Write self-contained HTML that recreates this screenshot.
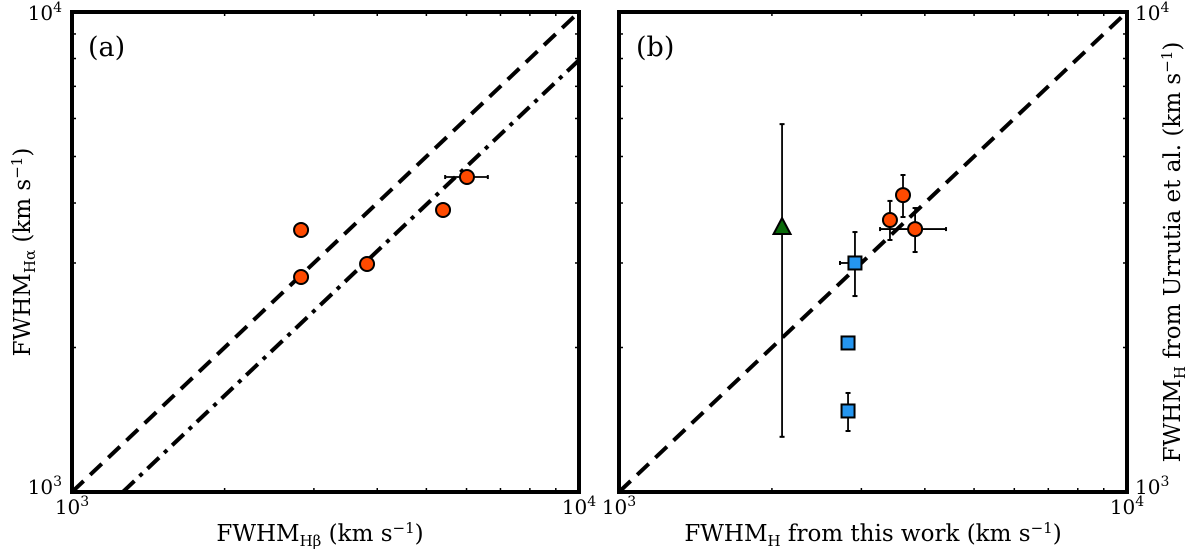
<!DOCTYPE html>
<html><head><meta charset="utf-8">
<style>
html,body{margin:0;padding:0;background:#fff;}
svg{display:block;font-family:"DejaVu Serif","Liberation Serif",serif;}
</style></head>
<body>
<svg id="chart" width="1200" height="554" viewBox="0 0 1200 554" xmlns="http://www.w3.org/2000/svg">
<g id="gA"></g>
<g id="gB"></g>
</svg>
<script>
// Panel (a) data
const aX = [2830, 2830, 3819, 5393, 6012];
const aY = [3515, 2805, 2985, 3869, 4531];
const aXerrLo = [0, 0, 0, 0, 5445];
const aXerrHi = [0, 0, 0, 0, 6610];
const dashDotRatio = [0.794];
// Panel (b) data
const bTriX = [2094]; const bTriY = [3548]; const bTriYlo = [1303]; const bTriYhi = [5840];
const bSqX = [2914, 2824, 2824];
const bSqY = [3000, 2044, 1475];
const bSqXlo = [2723, 2824, 2824];
const bSqXhi = [2914, 2824, 2824];
const bSqYlo = [2560, 2020, 1340];
const bSqYhi = [3480, 2070, 1608];
const bCX = [3415, 3623, 3827];
const bCY = [3687, 4155, 3530];
const bCXlo = [3415, 3623, 3265];
const bCXhi = [3415, 3623, 4403];
const bCYlo = [3350, 3740, 3162];
const bCYhi = [4040, 4575, 3905];
const minorTicks = [2000,3000,4000,5000,6000,7000,8000,9000];

const NS = "http://www.w3.org/2000/svg";
function mk(tag, attrs, parent){
  const e = document.createElementNS(NS, tag);
  for (const k in attrs) e.setAttribute(k, attrs[k]);
  parent.appendChild(e); return e;
}
function axes(x0, x1, y0, y1){
  const sx = v => x0 + (Math.log10(v) - 3) * (x1 - x0);
  const sy = v => y1 - (Math.log10(v) - 3) * (y1 - y0);
  return {sx, sy};
}
function frame(g, x0, x1, y0, y1, sx, sy, rightLabels){
  minorTicks.forEach(t => {
    const X = sx(t), Y = sy(t);
    let e;
    e = mk('line', {x1:X, y1:y1, x2:X, y2:y1-4, stroke:'#000','stroke-width':1.5}, g);
    
    
    e = mk('line', {x1:X, y1:y0, x2:X, y2:y0+4, stroke:'#000','stroke-width':1.5}, g);
    
    
    e = mk('line', {x1:x0, y1:Y, x2:x0+4, y2:Y, stroke:'#000','stroke-width':1.5}, g);
    
    
    e = mk('line', {x1:x1, y1:Y, x2:x1-4, y2:Y, stroke:'#000','stroke-width':1.5}, g);
    
    
  });
  const r = mk('rect', {x:x0, y:y0, width:x1-x0, height:y1-y0, fill:'none', stroke:'#000','stroke-width':4}, g);
  
  
  function lab(x, y, exp, anchor, name){
    const t = mk('text', {x:x, y:y, 'font-size':20, 'text-anchor':anchor}, g);
    
    
    t.textContent = '10';
    const s = mk('tspan', {dy:-8, 'font-size':14}, t); s.textContent = exp;
  }
  lab(x0, y1+22, '3', 'middle', 'x-tick-label-1e3');
  lab(x1, y1+22, '4', 'middle', 'x-tick-label-1e4');
  if (rightLabels){
    lab(x1+8, y0+8, '4', 'start', 'y-tick-label-1e4');
    lab(x1+8, y1+2, '3', 'start', 'y-tick-label-1e3');
  } else {
    lab(x0-10, y0+8, '4', 'end', 'y-tick-label-1e4');
    lab(x0-10, y1+2, '3', 'end', 'y-tick-label-1e3');
  }
}
function errbar(g, x1, y1, x2, y2, horiz){
  const e = mk('line', {x1:x1, y1:y1, x2:x2, y2:y2, stroke:'#000', 'stroke-width':1.8}, g);
  
  
  [[x1,y1],[x2,y2]].forEach(p => {
    const c = mk('line', horiz ? {x1:p[0], y1:p[1]-2, x2:p[0], y2:p[1]+2} : {x1:p[0]-2.5, y1:p[1], x2:p[0]+2.5, y2:p[1]}, g);
    c.setAttribute('stroke', '#000'); c.setAttribute('stroke-width', 2);
    
    
  });
}
function circle(g, X, Y){
  const c = mk('circle', {cx:X, cy:Y, r:7, fill:'#ff4a00', stroke:'#000', 'stroke-width':2}, g);
  
  
}

// Panel A
(function(){
  const g = document.getElementById('gA');
  const x0=72, x1=579, y0=12, y1=492;
  const {sx, sy} = axes(x0, x1, y0, y1);
  const cp = mk('clipPath', {id:'clipA'}, g);
  mk('rect', {x:x0, y:y0, width:x1-x0, height:y1-y0}, cp);
  let l = mk('line', {x1:sx(1000), y1:sy(1000), x2:sx(10000), y2:sy(10000), stroke:'#000','stroke-width':4,'stroke-dasharray':'16 9','clip-path':'url(#clipA)'}, g);
  
  
  const r = dashDotRatio[0];
  l = mk('line', {x1:sx(1000/r), y1:sy(1000), x2:sx(10000), y2:sy(10000*r), stroke:'#000','stroke-width':4,'stroke-dasharray':'16 7 4 7','clip-path':'url(#clipA)'}, g);
  
  
  aX.forEach((v, i) => {
    if (aXerrLo[i] && aXerrHi[i]) errbar(g, sx(aXerrLo[i]), sy(aY[i]), sx(aXerrHi[i]), sy(aY[i]), true);
    circle(g, sx(v), sy(aY[i]));
  });
  frame(g, x0, x1, y0, y1, sx, sy, false);
  let t = mk('text', {x:88, y:56, 'font-size':27}, g); t.textContent = '(a)';
   
  t = mk('text', {x:320, y:541, 'font-size':23, 'text-anchor':'middle'}, g);
  t.innerHTML = 'FWHM<tspan dy="5" font-size="15">Hβ</tspan><tspan dy="-5"> (km s</tspan><tspan dy="-8" font-size="15">−1</tspan><tspan dy="8">)</tspan>';
   
  t = mk('text', {x:0, y:0, 'font-size':23, 'text-anchor':'middle', transform:'translate(30,252) rotate(-90)'}, g);
  t.innerHTML = 'FWHM<tspan dy="5" font-size="15">Hα</tspan><tspan dy="-5"> (km s</tspan><tspan dy="-8" font-size="15">−1</tspan><tspan dy="8">)</tspan>';
   
})();

// Panel B
(function(){
  const g = document.getElementById('gB');
  const x0=619, x1=1127, y0=12, y1=492;
  const {sx, sy} = axes(x0, x1, y0, y1);
  let l = mk('line', {x1:sx(1000), y1:sy(1000), x2:sx(10000), y2:sy(10000), stroke:'#000','stroke-width':4,'stroke-dasharray':'16 9'}, g);
  
  
  errbar(g, sx(bTriX[0]), sy(bTriYlo[0]), sx(bTriX[0]), sy(bTriYhi[0]), false);
  const tx = sx(bTriX[0]), ty = sy(bTriY[0]);
  const tri = mk('polygon', {points:`${tx},${ty-10} ${tx-8.5},${ty+6} ${tx+8.5},${ty+6}`, fill:'#0a6b0a', stroke:'#000','stroke-width':2}, g);
  
  
  bSqX.forEach((v, i) => {
    if (bSqXlo[i] !== bSqXhi[i]) errbar(g, sx(bSqXlo[i]), sy(bSqY[i]), sx(bSqXhi[i]), sy(bSqY[i]), true);
    errbar(g, sx(v), sy(bSqYlo[i]), sx(v), sy(bSqYhi[i]), false);
    const s = mk('rect', {x:sx(v)-6.5, y:sy(bSqY[i])-6.5, width:13, height:13, fill:'#2596f0', stroke:'#000','stroke-width':2}, g);
    
    
  });
  bCX.forEach((v, i) => {
    if (bCXlo[i] !== bCXhi[i]) errbar(g, sx(bCXlo[i]), sy(bCY[i]), sx(bCXhi[i]), sy(bCY[i]), true);
    errbar(g, sx(v), sy(bCYlo[i]), sx(v), sy(bCYhi[i]), false);
    circle(g, sx(v), sy(bCY[i]));
  });
  frame(g, x0, x1, y0, y1, sx, sy, true);
  let t = mk('text', {x:636, y:56, 'font-size':27}, g); t.textContent = '(b)';
   
  t = mk('text', {x:873, y:541, 'font-size':23, 'text-anchor':'middle'}, g);
  t.innerHTML = 'FWHM<tspan dy="5" font-size="15">H</tspan><tspan dy="-5"> from this work (km s</tspan><tspan dy="-8" font-size="15">−1</tspan><tspan dy="8">)</tspan>';
   
  t = mk('text', {x:0, y:0, 'font-size':23, 'text-anchor':'middle', transform:'translate(1180,252) rotate(-90)'}, g);
  t.innerHTML = 'FWHM<tspan dy="5" font-size="15">H</tspan><tspan dy="-5"> from Urrutia et al. (km s</tspan><tspan dy="-8" font-size="15">−1</tspan><tspan dy="8">)</tspan>';
   
})();
</script>
</body></html>
